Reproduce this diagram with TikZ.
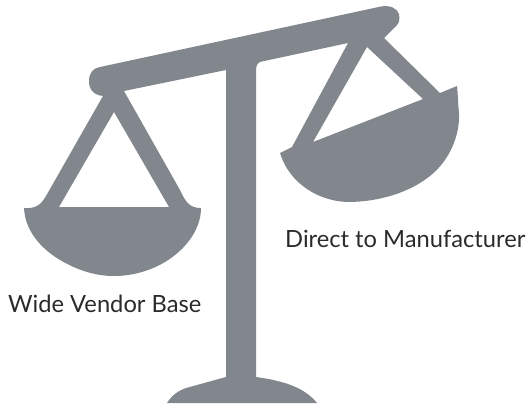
\documentclass[tikz,border=0pt]{standalone}
\usepackage{fontspec}
\setmainfont{Lato}
\definecolor{scalegray}{HTML}{82878D}
\definecolor{labelink}{HTML}{2B2B2B}
\tikzset{label text/.style={text=labelink,font=\fontsize{23.7}{27}\selectfont,inner sep=0pt,anchor=base west}}
\begin{document}
\begin{tikzpicture}[x=1pt,y=-1pt]
\useasboundingbox (0,0) rectangle (529,405);
\fill[scalegray,even odd rule]
 (100,67) -- (381,6.5)
 .. controls (390,5) and (397,8) .. (399,14)
 .. controls (400,19) and (399,23) .. (397,25)
 -- (384,38) -- (440,93) -- (457,86)
 .. controls (458,95) and (458,104) .. (459,113)
 .. controls (460,135) and (450,160) .. (430,176)
 .. controls (410,192) and (380,202) .. (347,202)
 .. controls (320,201) and (290,185) .. (280,153)
 -- (292,147) -- (348,43) -- (262,61.5)
 .. controls (258,62) and (256,65) .. (256,70)
 -- (256,377)
 .. controls (285,381) and (305,388) .. (317,403)
 -- (167,403)
 .. controls (172,395) and (178,391) .. (186,388)
 -- (226,377) -- (226,70) -- (124,91)
 -- (180,190) .. controls (186,203) and (190,208) .. (201,208)
 .. controls (201,230) and (185,250) .. (165,262)
 .. controls (150,271) and (132,276) .. (114,276)
 .. controls (95,276) and (77,270) .. (60,260)
 .. controls (40,248) and (25,230) .. (24,208)
 .. controls (35,209) and (41,205) .. (46,196)
 -- (103,96)
 .. controls (94,95) and (89,90) .. (89,81)
 .. controls (89,73) and (93,68) .. (100,67) -- cycle
 (114,112) -- (59,207) -- (169,207) -- cycle
 (367,47) -- (423,99) -- (313,142) -- cycle;
\node[label text] (direct) at (285,247) {Direct to Manufacturer};
\node[label text] (wide) at (8,312.5) {Wide Vendor Base};
\end{tikzpicture}
\end{document}
